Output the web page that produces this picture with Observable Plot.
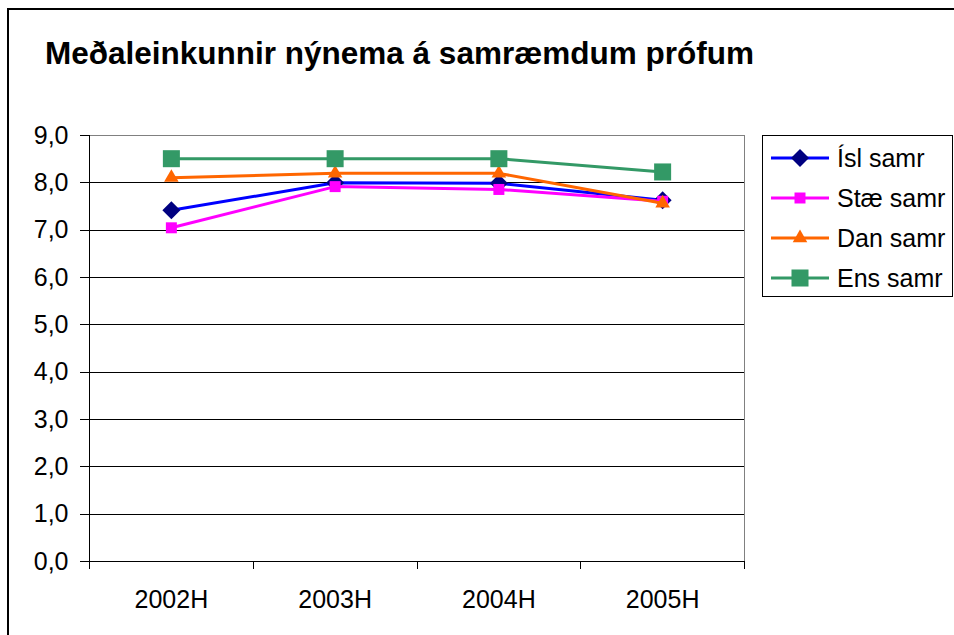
<!DOCTYPE html>
<html>
<head>
<meta charset="utf-8">
<script src="https://cdn.jsdelivr.net/npm/d3@7"></script>
<script src="https://cdn.jsdelivr.net/npm/@observablehq/plot@0.6"></script>
<style>
  html, body { margin: 0; padding: 0; background: #fff; }
  body { width: 954px; height: 635px; position: relative; overflow: hidden; font-family: "Liberation Sans", Arial, sans-serif; }
  #frame { position: absolute; left: 7px; top: 8px; width: 1000px; height: 700px; border: 2px solid #000; box-sizing: border-box; }
  #title { position: relative; height: 80px; box-sizing: border-box; padding-top: 35px; padding-left: 45px; font-weight: bold; font-size: 31.5px; line-height: 36px; color: #000; white-space: nowrap; }
  #chart { position: relative; }
  #legend { position: absolute; left: 762px; top: 135px; width: 191px; height: 162px; border: 1px solid #000; box-sizing: border-box; background: #fff; padding-top: 2px; }
  .row { height: 40px; display: flex; align-items: center; font-size: 25px; color: #000; }
  .row svg { margin-left: 8px; margin-right: 8px; }
</style>
</head>
<body>
<div id="frame"></div>
<div id="title">Meðaleinkunnir nýnema á samræmdum prófum</div>
<div id="chart"></div>
<div id="legend"></div>
<script>
// ---- data ----
const categories = ["2002H", "2003H", "2004H", "2005H"];
const seriesNames = ["Ísl samr", "Stæ samr", "Dan samr", "Ens samr"];
const islValues  = [7.42, 8.00, 7.99, 7.63];
const staeValues = [7.05, 7.92, 7.86, 7.61];
const danValues  = [8.11, 8.20, 8.20, 7.57];
const ensValues  = [8.51, 8.51, 8.51, 8.23];
const yTicks = [0, 1, 2, 3, 4, 5, 6, 7, 8, 9];

// ---- styles ----
const lineColors   = ["#0000FF", "#FF00FF", "#FF6600", "#339966"];
const markerColors = ["#000080", "#FF00FF", "#FF6600", "#339966"];
const markerSymbols = ["diamond2", "square", "triangle", "square"];
const markerR = [8.1, 6.2, 5.4, 9.6];

const allValues = [islValues, staeValues, danValues, ensValues];
const rows = [];
allValues.forEach((vals, s) => vals.forEach((v, i) => rows.push({series: seriesNames[s], s, cat: categories[i], i, value: v})));

const n = categories.length;
const fmt = d => d.toFixed(1).replace(".", ",");
const crisp = {shapeRendering: "crispEdges"};

const marks = [
  Plot.ruleY(yTicks.filter(t => t > 0 && t < 9), {stroke: "#000", strokeWidth: 1, ...crisp}),
  Plot.ruleY([9], {stroke: "#808080", strokeWidth: 1, ...crisp}),
  Plot.ruleX([n], {y1: 0, y2: 9, stroke: "#808080", strokeWidth: 1, ...crisp}),
  Plot.axisY({ticks: yTicks, tickSize: 9, tickPadding: 12, tickFormat: fmt, label: null, stroke: "#000", color: "#000", ...crisp}),
  Plot.axisX({ticks: d3.range(0, n + 1), tickSize: 8, tickFormat: () => "", label: null, stroke: "#000", ...crisp}),
  Plot.axisX({ticks: d3.range(0, n).map(i => i + 0.5), tickSize: 0, tickPadding: 29, tickFormat: d => categories[Math.floor(d)], label: null, color: "#000"}),
  Plot.ruleX([0], {y1: 0, y2: 9, stroke: "#000", strokeWidth: 1, ...crisp}),
  Plot.ruleY([0], {stroke: "#000", strokeWidth: 1, ...crisp}),
];
seriesNames.forEach((name, s) => {
  const data = rows.filter(r => r.s === s);
  marks.push(Plot.line(data, {x: d => d.i + 0.5, y: "value", stroke: lineColors[s], strokeWidth: 3}));
  marks.push(Plot.dot(data, {x: d => d.i + 0.5, y: "value", symbol: markerSymbols[s], r: markerR[s], fill: markerColors[s], stroke: "none"}));
});

const chart = Plot.plot({
  width: 954,
  height: 555,
  marginLeft: 89,
  marginRight: 210,
  marginTop: 55,
  marginBottom: 74,
  style: {fontFamily: "'Liberation Sans', Arial, sans-serif", fontSize: "25px", color: "#000", background: "transparent", overflow: "visible"},
  x: {type: "linear", domain: [0, n]},
  y: {type: "linear", domain: [0, 9]},
  marks
});
document.getElementById("chart").appendChild(chart);

// ---- legend ----
const symMap = {diamond2: d3.symbolDiamond2, square: d3.symbolSquare, triangle: d3.symbolTriangle};
const legend = d3.select("#legend");
seriesNames.forEach((name, s) => {
  const row = legend.append("div").attr("class", "row");
  const svg = row.append("svg").attr("width", 58).attr("height", 24);
  svg.append("line").attr("x1", 0).attr("x2", 58).attr("y1", 12).attr("y2", 12).attr("stroke", lineColors[s]).attr("stroke-width", 3);
  svg.append("path").attr("transform", "translate(29,12)")
    .attr("d", d3.symbol(symMap[markerSymbols[s]], Math.PI * markerR[s] * markerR[s])())
    .attr("fill", markerColors[s]);
  row.append("span").text(name);
});
</script>
</body>
</html>
